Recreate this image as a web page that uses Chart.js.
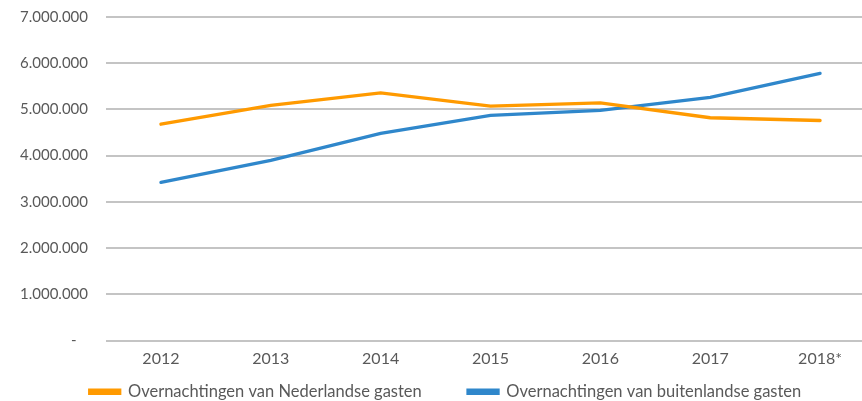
<!DOCTYPE html>
<html>
<head>
<meta charset="utf-8">
<script src="https://cdn.jsdelivr.net/npm/chart.js@4/dist/chart.umd.min.js"></script>
<style>
  html, body { margin: 0; padding: 0; background: #fff; overflow: hidden; }
  #wrap { position: relative; width: 862px; height: 401px; overflow: hidden; }
  #c { position: absolute; left: 0; top: -10px; }
</style>
</head>
<body>
<div id="wrap"><canvas id="c" width="880" height="420"></canvas></div>
<script>
const categories = ['2012', '2013', '2014', '2015', '2016', '2017', '2018*'];
const nederlandse = [4680000, 5090000, 5360000, 5070000, 5140000, 4820000, 4760000];
const buitenlandse = [3420000, 3900000, 4480000, 4870000, 4980000, 5260000, 5780000];
const seriesNames = ['Overnachtingen van Nederlandse gasten', 'Overnachtingen van buitenlandse gasten'];

function fmt(v) {
  if (v === 0) return '-   ';
  return String(Math.round(v)).replace(/\B(?=(\d{3})+(?!\d))/g, '.');
}

const FONT = 'Lato';
const TXT = '#595959';

new Chart(document.getElementById('c'), {
  type: 'line',
  data: {
    labels: categories,
    datasets: [
      { label: seriesNames[0], data: nederlandse, borderColor: '#FF9A00', backgroundColor: '#FF9A00',
        borderWidth: 3.3, pointRadius: 0, tension: 0, borderCapStyle: 'round' },
      { label: seriesNames[1], data: buitenlandse, borderColor: '#2F87CB', backgroundColor: '#2F87CB',
        borderWidth: 3.3, pointRadius: 0, tension: 0, borderCapStyle: 'round' }
    ]
  },
  options: {
    responsive: false,
    animation: false,
    layout: { padding: { top: 0, right: 5, left: 16, bottom: 0 } },
    plugins: {
      tooltip: { enabled: false },
      legend: {
        position: 'bottom',
        labels: {
          color: TXT,
          font: { family: FONT, size: 16.5 },
          boxWidth: 30,
          boxHeight: 3,
          padding: 4,
          generateLabels: (chart) => {
            const items = Chart.defaults.plugins.legend.labels.generateLabels(chart);
            items[0].text = items[0].text + '\u00A0'.repeat(10);
            return items;
          }
        }
      }
    },
    scales: {
      x: {
        offset: true,
        grid: { display: false },
        border: { display: false },
        ticks: { color: TXT, font: { family: FONT, size: 16 }, padding: 1, maxRotation: 0 },
        afterFit: (s) => { s.height = 39; }
      },
      y: {
        min: 0, max: 7000000,
        ticks: { stepSize: 1000000, color: TXT, font: { family: FONT, size: 15 }, padding: 18, callback: (v) => fmt(v) },
        grid: { color: '#C4C4C4', lineWidth: 2, drawTicks: false },
        border: { display: false },
        afterFit: (s) => { s.width = 90; }
      }
    }
  }
});
</script>
</body>
</html>
